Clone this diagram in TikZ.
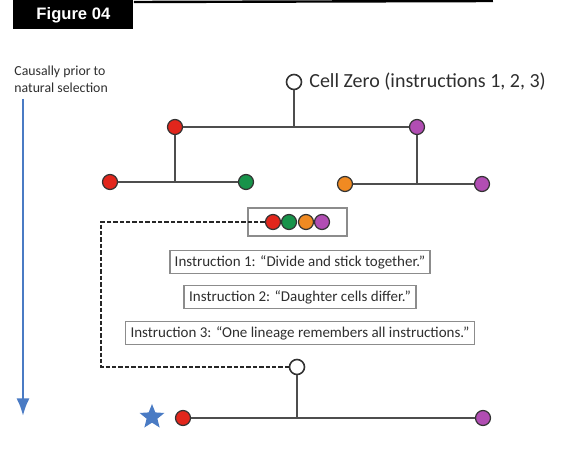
\documentclass[tikz,border=0pt]{standalone}
\usepackage{fontspec}
\setmainfont{Carlito}
\newfontfamily\headfont{Liberation Sans}
\usepackage{tikz}
\usetikzlibrary{arrows.meta,shapes.geometric}
\definecolor{cellred}{HTML}{E2261C}
\definecolor{cellgreen}{HTML}{17934A}
\definecolor{cellorange}{HTML}{F08A22}
\definecolor{cellpurple}{HTML}{B14DB3}
\definecolor{timeblue}{HTML}{4A7BC4}
\definecolor{branchgray}{HTML}{4D4D4D}
\definecolor{boxgray}{HTML}{8C8C8C}
\definecolor{textgray}{HTML}{2E2E2E}

\tikzset{
  cell/.style={circle,draw=black!80,line width=0.6pt,minimum size=7.5pt,inner sep=0pt},
  emptycell/.style={cell,fill=white,minimum size=7.5pt,line width=0.8pt},
  branch/.style={branchgray,line width=1.4pt},
  instr/.style={draw=boxgray,line width=0.8pt,inner xsep=2.5pt,inner ysep=2.4pt,
    text=textgray,font=\fontsize{7.5}{8}\selectfont},
}

\begin{document}
\begin{tikzpicture}[>=Latex,x=0.5pt,y=-0.5pt]
\useasboundingbox (0,0) rectangle (570,450);
% header
\node[fill=black,text=white,font=\headfont\bfseries\fontsize{8.3}{9}\selectfont,
  minimum width=60pt,minimum height=13.5pt,anchor=north west] (hdr) at (13,0) {Figure 04};
\coordinate (hdrend) at (493,1);
\draw[line width=1.2pt] (hdr.north east) ++(0,-1pt) -- (hdrend);
% time axis
\node[anchor=north west,align=left,text=textgray,font=\fontsize{6.9}{8.2}\selectfont,
  inner sep=0pt] (prior) at (14,66) {Causally prior to\\natural selection};
\coordinate (tend) at (23,416);
\draw[->,timeblue,line width=1.3pt] (prior.south west -| tend) ++(0,-3pt) -- (tend);
% first tree
\node[emptycell] (zero) at (294,82) {};
\node[anchor=west,text=textgray,font=\fontsize{10}{11}\selectfont] (zlabel) at (zero.east) {Cell Zero (instructions 1, 2, 3)};
\node[cell,fill=cellred] (a) at (175,127) {};
\node[cell,fill=cellpurple] (b) at (417,127) {};
\node[cell,fill=cellred] (aa) at (110,182) {};
\node[cell,fill=cellgreen] (ab) at (246,182) {};
\node[cell,fill=cellorange] (ba) at (345,184) {};
\node[cell,fill=cellpurple] (bb) at (482,184) {};
\draw[branch] (a) -- (b);
\draw[branch] (zero) -- (zero |- a);
\draw[branch] (aa) -- (ab);
\draw[branch] (a) -- (a |- aa);
\draw[branch] (ba) -- (bb);
\draw[branch] (b) -- (b |- ba);
% remembering cell
\draw[boxgray,line width=0.8pt] (248,208) rectangle (347,236);
\node[cell,fill=cellred] (m1) at (273,222) {};
\node[cell,fill=cellgreen] (m2) at (289,222) {};
\node[cell,fill=cellorange] (m3) at (306,222) {};
\node[cell,fill=cellpurple] (m4) at (322,222) {};
% instructions
\node[instr] (i1) at (300,262) {Instruction 1: “Divide and stick together.”};
\node[instr] (i2) at (300,297) {Instruction 2: “Daughter cells differ.”};
\node[instr] (i3) at (300,333) {Instruction 3: “One lineage remembers all instructions.”};
% second tree
\node[emptycell] (next) at (297,367) {};
\coordinate (bend) at (101,222);
\draw[black!85,line width=1pt,dash pattern=on 2.2pt off 1pt] (m1) -- (bend) |- (next);
\node[cell,fill=cellred] (c) at (183,418) {};
\node[cell,fill=cellpurple] (d) at (483,418) {};
\draw[branch] (c) -- (d);
\draw[branch] (next) -- (next |- c);
\node[star,star points=5,star point ratio=2.3,fill=timeblue,minimum size=13pt,
  inner sep=0pt] (winner) at (152,417) {};
\end{tikzpicture}
\end{document}
